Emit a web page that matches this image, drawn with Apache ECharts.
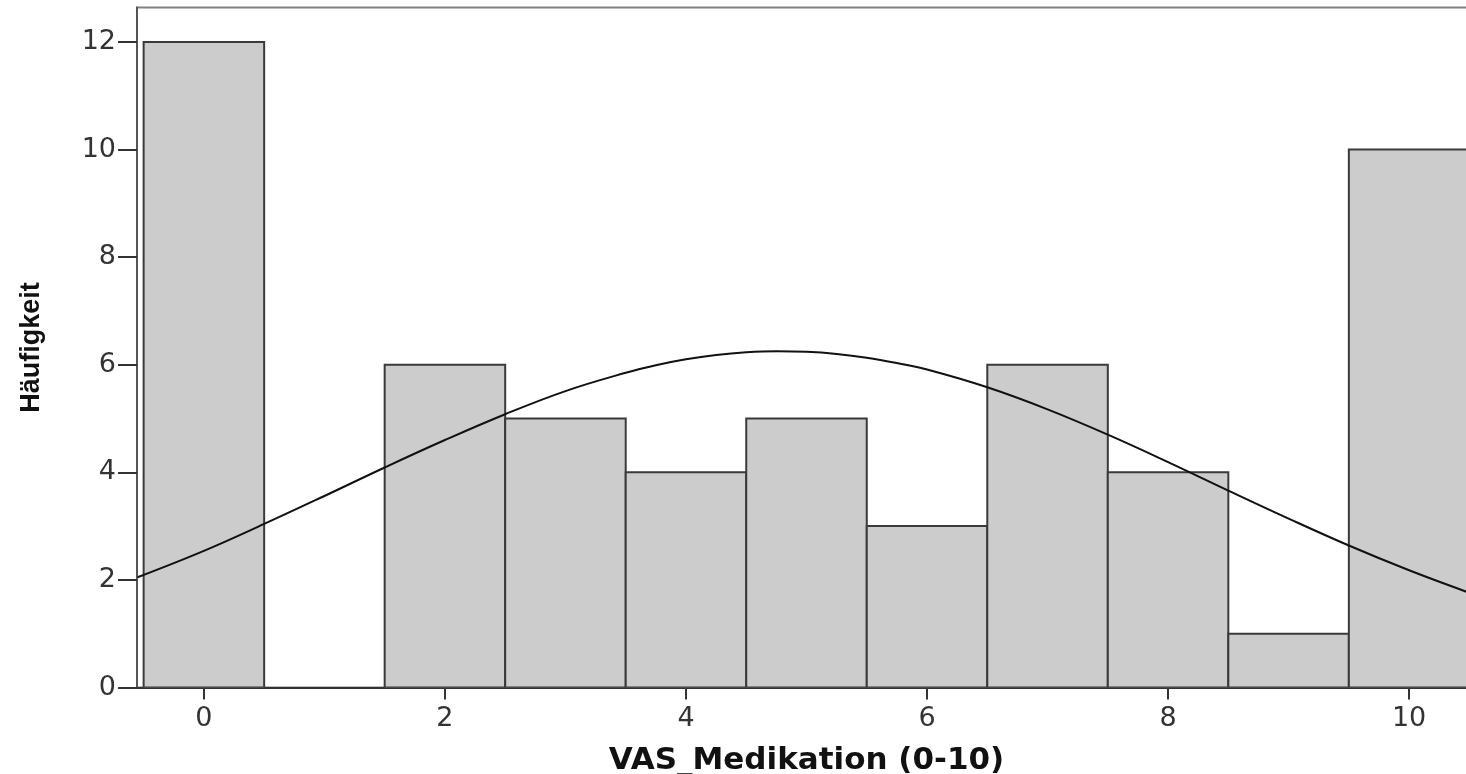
<!DOCTYPE html>
<html>
<head>
<meta charset="utf-8">
<script src="https://cdn.jsdelivr.net/npm/echarts@6/dist/echarts.min.js"></script>
<style>
html,body{margin:0;padding:0;background:#fff;}
#chart{width:1466px;height:774px;}
</style>
</head>
<body>
<div id="chart"></div>
<script>
// Histogram bins (VAS score) and their frequencies
const binValues = [0, 1, 2, 3, 4, 5, 6, 7, 8, 9, 10];
const frequencies = [12, 0, 6, 5, 4, 5, 3, 6, 4, 1, 10];
// Normal curve
const curveX = [-0.55, 0, 0.5, 1, 1.5, 2, 2.5, 3, 3.5, 3.75, 4, 4.25, 4.5, 4.75, 5, 5.25, 5.5, 5.75, 6, 6.5, 7, 7.5, 8, 8.5, 9, 9.5, 10, 10.5, 10.6];
const curveY = [2.05, 2.54, 3.04, 3.56, 4.09, 4.60, 5.08, 5.51, 5.85, 5.99, 6.10, 6.18, 6.23, 6.25, 6.24, 6.20, 6.13, 6.03, 5.91, 5.58, 5.17, 4.70, 4.19, 3.66, 3.14, 2.64, 2.18, 1.76, 1.68];
// Tick labels
const xTicks = [0, 2, 4, 6, 8, 10];
const yTicks = [0, 2, 4, 6, 8, 10, 12];
const xTitle = 'VAS_Medikation (0-10)';
const yTitle = 'Häufigkeit';

const barData = binValues.map((v, i) => [v, frequencies[i]]).filter(d => d[1] > 0);
const curveData = curveX.map((x, i) => [x, curveY[i]]);

const chart = echarts.init(document.getElementById('chart'), null, {renderer: 'canvas'});
chart.setOption({
  animation: false,
  backgroundColor: '#ffffff',
  grid: {
    left: 137, top: 7.5, width: 1339, height: 680,
    outerBoundsMode: 'none', containLabel: false,
    show: true, borderColor: '#808080', borderWidth: 2, backgroundColor: 'transparent'
  },
  xAxis: {
    type: 'value', min: -0.555, max: 10.555,
    name: xTitle, nameLocation: 'middle', nameGap: 58,
    nameTextStyle: {fontFamily: 'DejaVu Sans', fontWeight: 'bold', fontSize: 31, color: '#111'},
    axisLine: {show: true, onZero: false, lineStyle: {color: '#333', width: 2}},
    axisTick: {show: true, length: 12, lineStyle: {color: '#333', width: 2}, customValues: xTicks},
    axisLabel: {margin: 18, fontFamily: 'DejaVu Sans', fontSize: 27, color: '#333', customValues: xTicks},
    splitLine: {show: false}
  },
  yAxis: {
    type: 'value', min: 0, max: 12.64,
    name: yTitle, nameLocation: 'middle', nameRotate: 90, nameGap: 92,
    nameTextStyle: {fontFamily: '"Liberation Sans", Arial, sans-serif', fontWeight: 'bold', fontSize: 27, color: '#111'},
    axisLine: {show: true, onZero: false, lineStyle: {color: '#555', width: 2}},
    axisTick: {show: true, length: 19, lineStyle: {color: '#333', width: 2}, customValues: yTicks},
    axisLabel: {margin: 21, fontFamily: 'DejaVu Sans', fontSize: 27, color: '#333', customValues: yTicks},
    splitLine: {show: false}
  },
  series: [
    {
      type: 'custom',
      data: barData,
      clip: true,
      z: 2,
      renderItem: function (params, api) {
        const x = api.value(0), y = api.value(1);
        const p0 = api.coord([x - 0.5, y]);
        const p1 = api.coord([x + 0.5, 0]);
        return {
          type: 'rect',
          shape: {x: p0[0], y: p0[1], width: p1[0] - p0[0], height: p1[1] - p0[1]},
          style: {fill: '#cccccc', stroke: '#3a3a3a', lineWidth: 2}
        };
      }
    },
    {
      type: 'line',
      data: curveData,
      smooth: 0.4,
      showSymbol: false,
      clip: true,
      z: 3,
      lineStyle: {color: '#111', width: 2}
    }
  ]
});
</script>
</body>
</html>
